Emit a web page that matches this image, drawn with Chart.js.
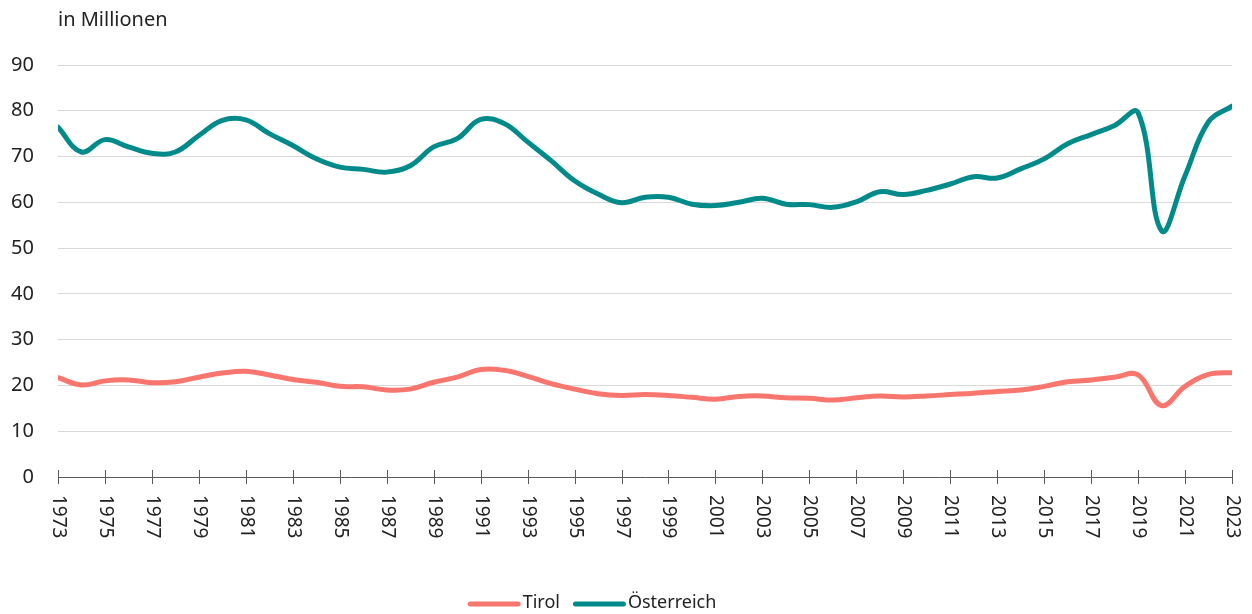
<!DOCTYPE html>
<html>
<head>
<meta charset="utf-8">
<script src="https://cdn.jsdelivr.net/npm/chart.js@4.4.1/dist/chart.umd.min.js"></script>
<style>
  html, body { margin: 0; background: #fff; }
  #wrap { width: 1252px; height: 614px; }
</style>
</head>
<body>
<div id="wrap"><canvas id="chart"></canvas></div>
<script>
// Jahre 1973-2023
const years = [1973, 1974, 1975, 1976, 1977, 1978, 1979, 1980, 1981, 1982,
  1983, 1984, 1985, 1986, 1987, 1988, 1989, 1990, 1991, 1992,
  1993, 1994, 1995, 1996, 1997, 1998, 1999, 2000, 2001, 2002,
  2003, 2004, 2005, 2006, 2007, 2008, 2009, 2010, 2011, 2012,
  2013, 2014, 2015, 2016, 2017, 2018, 2019, 2020, 2021, 2022, 2023];

const tirol = [21.7, 20.1, 21.0, 21.2, 20.6, 20.8, 21.8, 22.7, 23.1, 22.3,
  21.3, 20.7, 19.8, 19.7, 19.0, 19.2, 20.7, 21.8, 23.5, 23.3,
  22.0, 20.4, 19.2, 18.2, 17.8, 18.0, 17.8, 17.4, 17.0, 17.6,
  17.7, 17.3, 17.2, 16.8, 17.3, 17.7, 17.5, 17.7, 18.0, 18.3,
  18.7, 19.0, 19.8, 20.8, 21.2, 21.8, 22.3, 15.6, 19.8, 22.4, 22.8];

const oesterreich = [76.4, 71.0, 73.7, 72.1, 70.7, 71.0, 74.6, 77.9, 78.0, 75.0,
  72.4, 69.5, 67.7, 67.2, 66.6, 68.0, 72.1, 73.9, 78.1, 77.2,
  73.2, 69.1, 64.7, 61.8, 59.9, 61.1, 61.1, 59.6, 59.3, 60.0,
  60.9, 59.6, 59.5, 58.9, 60.1, 62.3, 61.7, 62.6, 64.0, 65.6,
  65.3, 67.3, 69.5, 72.8, 74.8, 76.8, 79.6, 53.8, 65.8, 77.6, 81.0];

const tickYears = [1973, 1975, 1977, 1979, 1981, 1983, 1985, 1987, 1989, 1991,
  1993, 1995, 1997, 1999, 2001, 2003, 2005, 2007, 2009, 2011,
  2013, 2015, 2017, 2019, 2021, 2023];

const unitLabel = 'in Millionen';
const FONT = '"Noto Sans", "Open Sans", sans-serif';

const toPoints = vals => years.map((yr, i) => ({ x: yr, y: vals[i] }));

// Einheit, x-Beschriftung (von oben nach unten), Ticks ueber die Achse, Legende
const extras = {
  id: 'extras',
  afterDraw(chart) {
    const ctx = chart.ctx;
    const xs = chart.scales.x;
    const top = xs.top;
    ctx.save();
    ctx.fillStyle = '#222';
    ctx.font = '20px ' + FONT;
    ctx.textAlign = 'left';
    ctx.textBaseline = 'middle';
    ctx.fillText(unitLabel, chart.chartArea.left, 20);

    ctx.strokeStyle = '#595959';
    ctx.lineWidth = 1;
    ctx.font = '19px ' + FONT;
    xs.ticks.forEach(t => {
      const px = Math.round(xs.getPixelForValue(t.value)) + 0.5;
      ctx.beginPath();
      ctx.moveTo(px, top - 7);
      ctx.lineTo(px, top + 7);
      ctx.stroke();
      ctx.save();
      ctx.translate(px, top + 18);
      ctx.rotate(Math.PI / 2);
      ctx.fillText(String(t.value), 0, 0);
      ctx.restore();
    });

    // Legende
    ctx.font = '18px ' + FONT;
    const lineW = 53, gapText = 2, gapItem = 13, cy = 603;
    const items = chart.data.datasets.map(ds => ({ label: ds.label, color: ds.borderColor }));
    const widths = items.map(it => lineW + gapText + ctx.measureText(it.label).width);
    const total = widths.reduce((a, b) => a + b, 0) + gapItem * (items.length - 1);
    let x = 592 - total / 2;
    ctx.lineCap = 'round';
    ctx.lineWidth = 5;
    items.forEach((it, i) => {
      ctx.strokeStyle = it.color;
      ctx.beginPath();
      ctx.moveTo(x + 2.5, cy + 1);
      ctx.lineTo(x + lineW - 2.5, cy + 1);
      ctx.stroke();
      ctx.fillStyle = '#222';
      ctx.fillText(it.label, x + lineW + gapText, cy);
      x += widths[i] + gapItem;
    });
    ctx.restore();
  }
};

new Chart(document.getElementById('chart'), {
  type: 'line',
  data: {
    datasets: [
      {
        label: 'Tirol',
        data: toPoints(tirol),
        borderColor: '#F8766D',
        backgroundColor: '#F8766D',
        borderWidth: 5,
        tension: 0.4,
        pointRadius: 0,
        borderCapStyle: 'round'
      },
      {
        label: 'Österreich',
        data: toPoints(oesterreich),
        borderColor: '#008B8A',
        backgroundColor: '#008B8A',
        borderWidth: 5,
        tension: 0.4,
        pointRadius: 0,
        borderCapStyle: 'round'
      }
    ]
  },
  options: {
    responsive: true,
    maintainAspectRatio: false,
    animation: false,
    layout: { padding: { top: 65, left: 0, right: 20, bottom: 0 } },
    plugins: {
      tooltip: { enabled: false },
      legend: { display: false }
    },
    scales: {
      x: {
        type: 'linear',
        min: 1973,
        max: 2023,
        afterBuildTicks(scale) {
          scale.ticks = tickYears.map(v => ({ value: v }));
        },
        afterFit(scale) { scale.height = 137; },
        ticks: { display: false },
        grid: { display: false },
        border: { display: true, color: '#595959', width: 1 }
      },
      y: {
        min: 0,
        max: 90,
        afterFit(scale) { scale.width = 58; },
        ticks: {
          stepSize: 10,
          padding: 24,
          color: '#222',
          font: { family: FONT, size: 20 }
        },
        grid: { color: '#d9d9d9', lineWidth: 1, drawTicks: false },
        border: { display: false }
      }
    }
  },
  plugins: [extras]
});
</script>
</body>
</html>
